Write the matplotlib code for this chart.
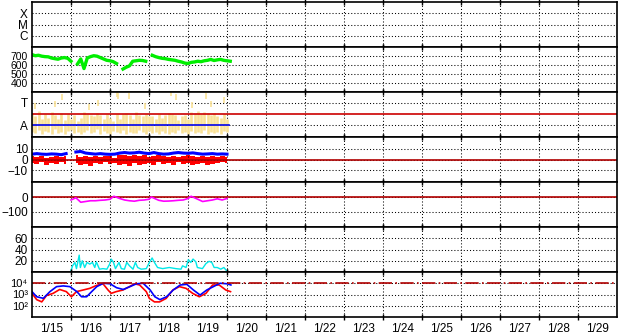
import numpy as np
import pandas as pd
import matplotlib
matplotlib.use('Agg')
import matplotlib.pyplot as plt
import matplotlib.dates as mdates
from matplotlib.ticker import FixedLocator, FixedFormatter

plt.rcParams['font.family'] = ['Liberation Sans', 'DejaVu Sans']
plt.rcParams['font.size'] = 8

START = pd.Timestamp('2025-01-15')
N_DAYS = 15
DAY_LABELS = ['1/15', '1/16', '1/17', '1/18', '1/19', '1/20', '1/21', '1/22',
              '1/23', '1/24', '1/25', '1/26', '1/27', '1/28', '1/29']

# solar wind speed, every 2 h from 1/15 00:00 (nan = data gap)
speed = [712, 700, 705, 695, 690, 688, 675, 668, 662, 675, 680, 672,
         640, np.nan, 610, 665, 560, 675, 690, 700, 695, 680, 665, 650,
         645, 635, 615, np.nan, 555, 575, 590, 640, 645, 650, 648, 640,
         np.nan, 705, 690, 680, 672, 668, 660, 655, 650, 640, 632, 620,
         615, 628, 632, 640, 635, 645, 650, 660, 648, 655, 660, 650,
         645, 640]

# yellow band (every 2 h) and isolated high points
yel_lo = [0.70, 0.65, 0.80, 0.60, 0.75, 0.70, 0.62, 0.85, 0.68, 0.72, 0.60, 0.75,
          0.80, 0.66, 0.72, 0.60, 0.70, 0.78, 0.64, 0.70, 0.82, 0.62, 0.74, 0.68,
          0.60, 0.75, 0.70, 0.66, 0.80, 0.62, 0.72, 0.68, 0.64, 0.78, 0.70, 0.60,
          0.74, 0.66, 0.70, 0.62, 0.76, 0.68, 0.60, 0.72, 0.66, 0.80, 0.64, 0.70,
          0.62, 0.74, 0.68, 0.70, 0.64, 0.78, 0.60, 0.72, 0.66, 0.70, 0.62, 0.74,
          0.70]
yel_hi = [1.55, 1.40, 1.65, 1.30, 1.50, 1.35, 1.60, 1.45, 1.30, 1.55, 1.25, 1.50,
          1.30, 1.45, 1.20, 1.35, 1.60, 1.50, 1.45, 1.40, 1.55, 1.45, 1.30, 1.50,
          1.35, 1.20, 1.50, 1.30, 1.50, 1.55, 1.45, 1.30, 1.60, 1.45, 1.40, 1.50,
          1.40, 1.40, 1.30, 1.50, 1.35, 1.45, 1.55, 1.50, 1.45, 1.25, 1.40, 1.45,
          1.30, 1.60, 1.55, 1.65, 1.50, 1.60, 1.55, 1.45, 1.55, 1.40, 1.35, 1.50,
          1.30]
spike_days = [0.08, 0.60, 0.76, 1.45, 1.70, 2.17, 2.21, 2.48, 2.90, 3.57, 3.70,
              4.10, 4.46, 4.60, 4.92]
spike_vals = [1.85, 1.95, 2.25, 1.80, 2.00, 2.40, 2.30, 2.30, 1.85, 2.45, 2.25,
              1.90, 2.30, 1.95, 2.15]
a_level_days = [0.0, 5.05]
a_level_vals = [1.0, 1.0]

# IMF Bt and Bz (every 3 h)
bt = [5, 5.5, 5, 4.8, 5.2, 5, 4.5, 5.5, np.nan, 7, 7.5, 6, 5.5, 5, 5.5, 5,
      4.8, 5, 6, 6.5, 6, 6.2, 6.8, 6, 5.5, 6.5, 5.5, 5, 5.2, 6, 6.5, 6,
      5.8, 6.2, 5.5, 5, 5.2, 5.5, 5, 5.2, 5]
bz_lo = [-3, -4, -2, -5, -3, -4, -2, -4, np.nan, -3, -5, -4, -6, -3, -4, -2,
         -4, -3, -5, -4, -6, -3, -5, -4, -3, -5, -2, -4, -3, -5, -2, -4,
         -3, -5, -4, -3, -5, -4, -3, -2, -3]
bz_hi = [3, 2, 3, 1, 2, 3, 2, 3, np.nan, 4, 2, 3, 2, 3, 2, 3,
         3, 1, 4, 4, 3, 4, 3, 4, 2, 3, 4, 3, 2, 3, 2, 3,
         4, 3, 2, 3, 2, 3, 2, 3, 2]

# Dst (every 3 h from 1/16)
dst_days = [1.0, 1.125, 1.25, 1.375, 1.5, 1.625, 1.75, 1.875, 2.0, 2.1, 2.25,
            2.375, 2.5, 2.625, 2.75, 2.875, 3.0, 3.06, 3.25, 3.375, 3.5, 3.625,
            3.75, 3.875, 4.0, 4.08, 4.25, 4.375, 4.5, 4.625, 4.75, 4.875, 5.0]
dst = [-20, -5, -35, -30, -25, -25, -22, -20, -15, 5, -10, -20, -25, -28, -22,
       -20, -15, 0, -22, -28, -27, -25, -22, -20, -10, 5, -15, -30, -25, -20,
       -12, -20, -10]

# cyan series
cyan_days = [1.0, 1.04, 1.1, 1.14, 1.21, 1.24, 1.29, 1.35, 1.41, 1.48, 1.55,
             1.61, 1.65, 1.73, 1.82, 1.92, 1.99, 2.03, 2.09, 2.14, 2.23, 2.29,
             2.37, 2.43, 2.5, 2.59, 2.65, 2.71, 2.8, 2.93, 3.01, 3.08, 3.14,
             3.22, 3.35, 3.52, 3.69, 3.82, 3.86, 3.95, 4.01, 4.07, 4.13, 4.2,
             4.24, 4.37, 4.46, 4.54, 4.61, 4.67, 4.75, 4.84, 4.92, 4.98]
cyan = [2, 11, 17, 6, 30, 8, 20, 8, 17, 14, 17, 8, 18, 5, 6, 5, 14, 23, 17,
        6, 17, 6, 5, 17, 11, 5, 17, 8, 5, 6, 17, 25, 17, 8, 6, 8, 6, 5, 11,
        8, 22, 17, 23, 18, 8, 6, 15, 19, 17, 8, 8, 5, 8, 3]

# electron flux, two series
e_blue_days = [0.0, 0.12, 0.29, 0.46, 0.63, 0.8, 0.97, 1.15, 1.27, 1.4, 1.53,
               1.66, 1.83, 2.0, 2.17, 2.34, 2.51, 2.68, 2.85, 3.03, 3.15, 3.28,
               3.45, 3.62, 3.8, 3.97, 4.14, 4.31, 4.48, 4.65, 4.82, 5.0, 5.1]
e_blue = [1800, 630, 460, 1800, 5000, 5800, 5000, 1800, 630, 630, 1800, 5000,
          10000, 9000, 4000, 2800, 5000, 9000, 10000, 2500, 630, 350, 630,
          2500, 7000, 8000, 2500, 900, 2500, 5000, 10000, 9000, 7000]
e_red_days = [0.0, 0.12, 0.25, 0.37, 0.54, 0.71, 0.88, 1.01, 1.14, 1.31, 1.48,
              1.65, 1.82, 1.95, 2.03, 2.16, 2.33, 2.5, 2.63, 2.76, 2.93, 3.01,
              3.14, 3.27, 3.44, 3.61, 3.78, 3.95, 4.12, 4.29, 4.46, 4.63, 4.8,
              4.97, 5.09]
e_red = [1260, 350, 220, 800, 1260, 2800, 1800, 630, 1800, 2500, 3500, 6300,
         9000, 2500, 1260, 1800, 2500, 5000, 9000, 7000, 1800, 450, 220, 220,
         450, 2500, 5000, 3500, 1260, 630, 1260, 7000, 7000, 2500, 1800]


def t(days):
    return START + pd.to_timedelta(np.asarray(days, dtype=float), unit='D')


def every(hours, n):
    return pd.date_range(START, periods=n, freq=f'{hours}h')


DOT = (0, (1, 2))
DARKRED = '#b00000'

fig, axes = plt.subplots(7, 1, sharex=True, figsize=(6.28, 3.34), dpi=100)
fig.subplots_adjust(left=32 / 628, right=617 / 628, top=1 - 2 / 334,
                    bottom=1 - 317 / 334, hspace=0)

# X-ray class panel (empty)
ax = axes[0]
ax.set_yscale('log')
ax.set_ylim(1e-7, 1e-3)
ax.set_yticks([1e-6, 1e-5, 1e-4])
ax.set_yticklabels(['C', 'M', 'X'])
ax.minorticks_off()

# speed
ax = axes[1]
ax.plot(every(2, len(speed)), speed, color='#00ee00', lw=2.4)
ax.set_ylim(305, 795)
ax.set_yticks([400, 500, 600, 700])

# yellow band
ax = axes[2]
ax.vlines(every(2, len(yel_lo)), yel_lo, yel_hi, color='#f9e196', lw=1.9)
ax.plot(t(spike_days), spike_vals, '|', color='#f9e196', ms=4, mew=1.2)
ax.axhline(1.5, color='#cc0000', lw=1.2)
ax.plot(t(a_level_days), a_level_vals, color='#0000ee', lw=1.2)
ax.set_ylim(0.48, 2.49)
ax.set_yticks([1, 2])
ax.set_yticklabels(['A', 'T'])

# IMF
ax = axes[3]
bt_t = every(3, len(bt))
ax.axhline(0, color=DARKRED, lw=1.2)
ax.fill_between(bt_t, bz_lo, bz_hi, step='mid', color='#ff0000', lw=0)
ax.plot(bt_t, bt, color='#0000ff', lw=2.2)
ax.set_ylim(-21, 21)
ax.set_yticks([-10, 0, 10])

# Dst
ax = axes[4]
ax.axhline(0, color=DARKRED, lw=1.2)
ax.plot(t(dst_days), dst, color='#ff00ff', lw=1.2)
ax.set_ylim(-200, 100)
ax.set_yticks([-100, 0])

# cyan
ax = axes[5]
ax.plot(t(cyan_days), cyan, color='#00e8e8', lw=1.0)
ax.set_ylim(0, 80)
ax.set_yticks([20, 40, 60])

# electron flux
ax = axes[6]
ax.set_yscale('log')
ax.plot(t(e_red_days), e_red, color='#ff0000', lw=1.2)
ax.plot(t(e_blue_days), e_blue, color='#0000ff', lw=1.2)
ax.axhline(1e4, color=DARKRED, lw=1.2, linestyle=(0, (8, 2, 1, 2)))
ax.set_ylim(10, 1e5)
ax.set_yticks([1e2, 1e3, 1e4])
ax.set_yticklabels(['10²', '10³', '10⁴'])
ax.minorticks_off()

day_edges = mdates.date2num(t(range(1, N_DAYS)))
mid_days = mdates.date2num(t(np.arange(N_DAYS) + 0.5))
for ax in axes:
    ax.set_xlim(t([0, N_DAYS]))
    ax.xaxis.set_major_locator(FixedLocator(day_edges))
    ax.xaxis.set_minor_locator(FixedLocator(mid_days))
    ax.grid(True, which='major', color='black', linestyle=DOT, linewidth=0.75)
    ax.tick_params(axis='x', which='major', direction='inout', length=4,
                   width=1, top=True, labelbottom=False)
    ax.tick_params(axis='x', which='minor', length=0)
    ax.tick_params(axis='y', which='both', length=0, pad=3, labelsize=8.5)
    for s in ax.spines.values():
        s.set_linewidth(1.2)

axes[1].tick_params(axis='y', labelsize=7.5)
axes[6].tick_params(axis='y', labelsize=8)

axes[-1].xaxis.set_major_formatter(FixedFormatter([''] * len(day_edges)))
axes[-1].xaxis.set_minor_formatter(FixedFormatter(DAY_LABELS))
axes[-1].tick_params(axis='x', which='minor', labelbottom=True, pad=4,
                     labelsize=8.5)

fig.savefig('out.png', dpi=100)
